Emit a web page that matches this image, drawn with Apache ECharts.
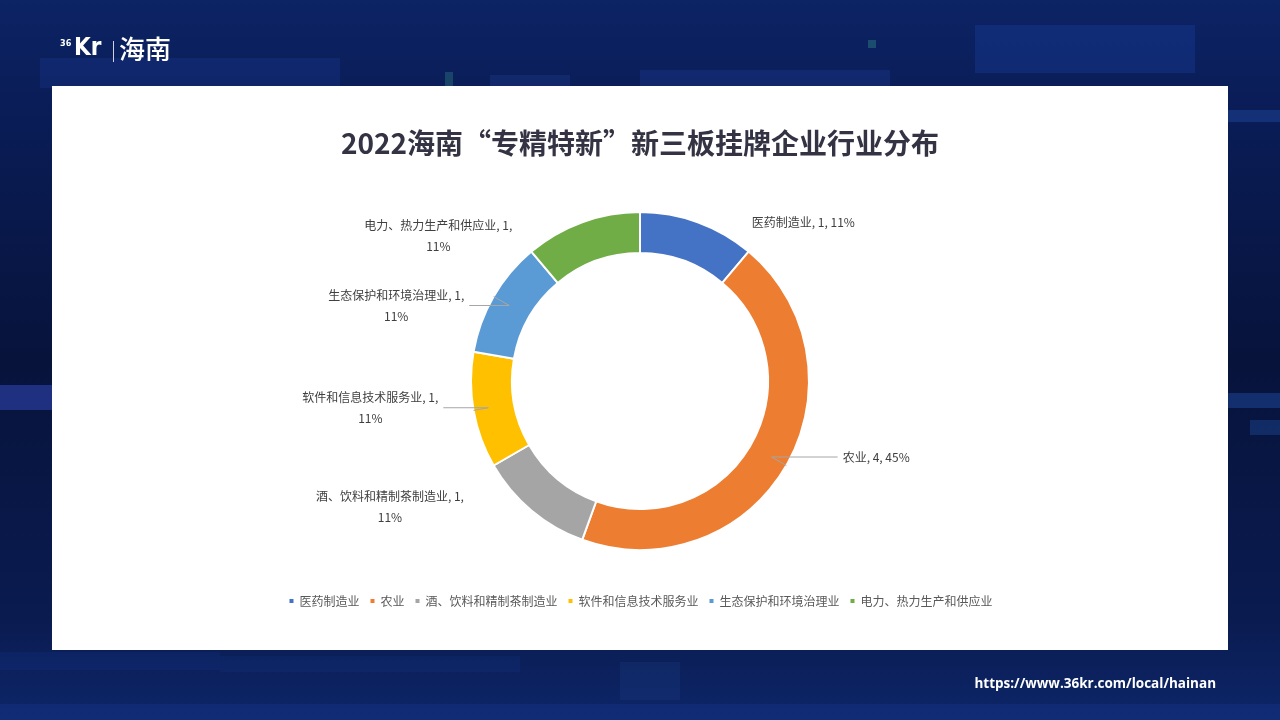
<!DOCTYPE html>
<html>
<head>
<meta charset="utf-8">
<script src="https://cdn.jsdelivr.net/npm/echarts@6/dist/echarts.min.js"></script>
<style>
html,body{margin:0;padding:0;width:1280px;height:720px;overflow:hidden;background:#08143f;}
#c{width:1280px;height:720px;}
</style>
</head>
<body>
<div id="c"></div>
<script>
// ---- data ----
const titleText = '2022海南“专精特新”新三板挂牌企业行业分布';
const categories = ['医药制造业', '农业', '酒、饮料和精制茶制造业', '软件和信息技术服务业', '生态保护和环境治理业', '电力、热力生产和供应业'];
const counts = [1, 4, 1, 1, 1, 1];
const pctLabels = ['11%', '45%', '11%', '11%', '11%', '11%'];
const colors = ['#4472C4', '#ED7D31', '#A5A5A5', '#FFC000', '#5B9BD5', '#70AD47'];

// ---- label layout (presentation only) ----
const labelGeom = [
  { len: 0,   len2: 49, line: false },
  { len: -17, len2: 66, line: true },
  { len: -4,  len2: 65, line: false },
  { len: -15, len2: 45, line: true },
  { len: -18, len2: 40, line: true },
  { len: -15, len2: 70, line: false }
];

const total = counts.reduce((a, b) => a + b, 0);
let cum = 0;
const pieData = categories.map((name, i) => {
  const mid = (cum + counts[i] / 2) / total * 360;
  cum += counts[i];
  const g = labelGeom[i];
  return {
    name: name,
    value: counts[i],
    pct: pctLabels[i],
    leftSide: mid > 180,
    itemStyle: { color: colors[i] },
    labelLine: { show: g.line, length: g.len, length2: g.len2 }
  };
});

const chart = echarts.init(document.getElementById('c'), null, { renderer: 'canvas' });

const bgDeco = [
  [40, 58, 300, 30, 'rgba(40,80,190,0.18)'],
  [975, 25, 220, 48, 'rgba(40,90,210,0.20)'],
  [640, 70, 250, 16, 'rgba(50,90,200,0.18)'],
  [490, 75, 80, 11, 'rgba(60,100,200,0.15)'],
  [0, 385, 52, 25, 'rgba(70,90,230,0.40)'],
  [1228, 393, 52, 15, 'rgba(50,110,220,0.30)'],
  [1250, 420, 30, 15, 'rgba(40,100,190,0.30)'],
  [1228, 110, 52, 12, 'rgba(50,110,220,0.25)'],
  [0, 652, 220, 18, 'rgba(30,70,170,0.15)'],
  [220, 656, 300, 16, 'rgba(30,70,170,0.12)'],
  [620, 662, 60, 38, 'rgba(40,90,160,0.15)'],
  [0, 704, 1280, 16, 'rgba(25,60,150,0.30)'],
  [868, 40, 8, 8, 'rgba(60,160,140,0.35)'],
  [445, 72, 8, 14, 'rgba(60,160,140,0.30)']
];

const graphics = [];
bgDeco.forEach(d => {
  graphics.push({ type: 'rect', z: 0, shape: { x: d[0], y: d[1], width: d[2], height: d[3] }, style: { fill: d[4] }, silent: true });
});
// white panel
graphics.push({ type: 'rect', z: 1, shape: { x: 52, y: 86, width: 1176, height: 564 }, style: { fill: '#ffffff' }, silent: true });
// logo
graphics.push({ type: 'text', z: 2, left: 60, top: 39, style: { text: '36', fill: '#ffffff', font: 'bold 9px "DejaVu Sans Condensed"' } });
graphics.push({ type: 'text', z: 2, left: 74, top: 37, style: { text: 'Kr', fill: '#ffffff', font: 'bold 24px "DejaVu Sans Condensed"' } });
graphics.push({ type: 'rect', z: 2, shape: { x: 113, y: 41, width: 1, height: 21 }, style: { fill: 'rgba(255,255,255,0.8)' } });
graphics.push({ type: 'text', z: 2, left: 119, top: 36, style: { text: '海南', fill: '#ffffff', font: '500 26px "Noto Sans CJK SC"' } });
// url
graphics.push({ type: 'text', z: 2, right: 64, top: 677, style: { text: 'https://www.36kr.com/local/hainan', fill: '#ffffff', font: 'bold 13.5px "Open Sans"' } });

const option = {
  backgroundColor: {
    type: 'linear', x: 0, y: 0, x2: 0, y2: 1,
    colorStops: [
      { offset: 0, color: '#0c2364' },
      { offset: 0.14, color: '#0a1d58' },
      { offset: 0.5, color: '#07133b' },
      { offset: 0.86, color: '#0a1b50' },
      { offset: 1, color: '#0d2669' }
    ]
  },
  animation: false,
  graphic: { elements: graphics },
  title: {
    text: titleText,
    left: 'center',
    top: 124,
    textStyle: { fontSize: 28, fontWeight: 'bold', color: '#333344', fontFamily: '"Noto Sans CJK SC"' }
  },
  legend: {
    bottom: 108,
    left: 'center',
    icon: 'rect',
    itemWidth: 6,
    itemHeight: 6,
    itemGap: 9,
    data: categories,
    textStyle: { fontSize: 12, color: '#595959', fontFamily: '"Noto Sans CJK SC"' }
  },
  series: [{
    type: 'pie',
    center: [640, 381],
    radius: [128, 169],
    startAngle: 90,
    clockwise: true,
    avoidLabelOverlap: false,
    itemStyle: { borderColor: '#ffffff', borderWidth: 2 },
    label: {
      show: true,
      position: 'outside',
      distanceToLabelLine: 5,
      formatter: function (p) {
        const d = pieData[p.dataIndex];
        if (d.leftSide) {
          return '{t|' + d.name + ', ' + d.value + ',}\n{t|' + d.pct + '}';
        }
        return '{t|' + d.name + ', ' + d.value + ', ' + d.pct + '}';
      },
      rich: {
        t: { fontSize: 12, color: '#404040', lineHeight: 21, align: 'center', fontFamily: '"Noto Sans CJK SC"' }
      }
    },
    labelLine: {
      minTurnAngle: 0,
      maxSurfaceAngle: 180,
      lineStyle: { color: '#a6a6a6', width: 1 }
    },
    emphasis: { disabled: true },
    data: pieData
  }]
};

chart.setOption(option);

// draw leader lines above the ring (as in the reference)
const zr = chart.getZr();
zr.storage.getDisplayList(true).forEach(function (el) {
  if (el.type === 'polyline') {
    el.z2 = 1000;
    el.z = 10;
    el.dirty();
  }
});
zr.refreshImmediately();
</script>
</body>
</html>
